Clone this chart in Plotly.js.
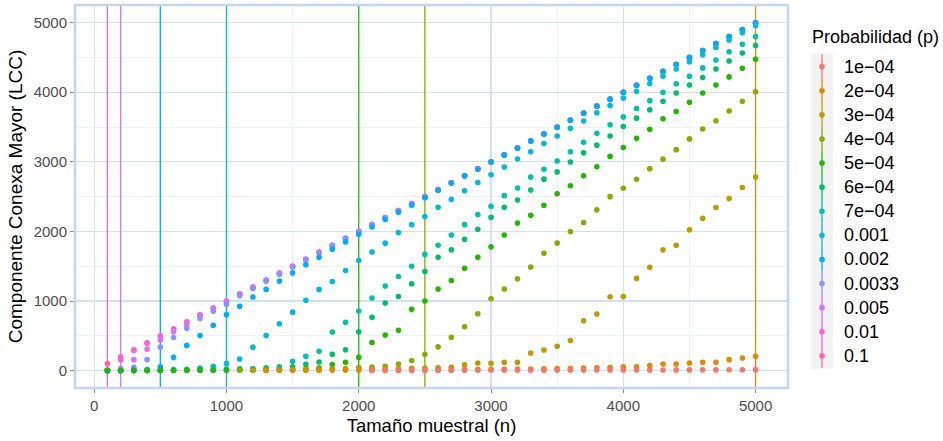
<!DOCTYPE html>
<html>
<head>
<meta charset="utf-8">
<script src="https://cdn.plot.ly/plotly-3.0.1.min.js"></script>
<style>
  html, body { margin: 0; padding: 0; background: #ffffff; }
  #chart { width: 943px; height: 441px; }
</style>
</head>
<body>
<div id="chart"></div>
<script>
// Sample sizes n shared by every series
const sampleSizes = [100, 200, 300, 400, 500, 600, 700, 800, 900, 1000,
  1100, 1200, 1300, 1400, 1500, 1600, 1700, 1800, 1900, 2000,
  2100, 2200, 2300, 2400, 2500, 2600, 2700, 2800, 2900, 3000,
  3100, 3200, 3300, 3400, 3500, 3600, 3700, 3800, 3900, 4000,
  4100, 4200, 4300, 4400, 4500, 4600, 4700, 4800, 4900, 5000];

// Edge probabilities (legend order) with their labels and colours
const probLabels = ["1e\u221204", "2e\u221204", "3e\u221204", "4e\u221204", "5e\u221204", "6e\u221204",
  "7e\u221204", "0.001", "0.002", "0.0033", "0.005", "0.01", "0.1"];
const probValues = [0.0001, 0.0002, 0.0003, 0.0004, 0.0005, 0.0006, 0.0007, 0.001, 0.002, 0.0033, 0.005, 0.01, 0.1];
const probColors = ["#F8766D", "#E18A00", "#BE9C00", "#8CAB00", "#24B700", "#00BE70",
  "#00C1AB", "#00BBDA", "#00ACFC", "#8B93FF", "#D575FE", "#F962DD", "#FF65AC"];

// Size of the largest connected component (LCC) for each n; null = not simulated
const lccP0001 = [null, null, null, null, null, null, null, null, null, null,
  null, null, null, null, null, null, null, null, null, null,
  2, 3, 3, 3, 3, 4, 4, 4, 5, 5,
  5, 5, 6, 6, 6, 7, 7, 7, 8, 8,
  8, 9, 9, 10, 10, 11, 11, 12, 13, 14];
const lccP0002 = [null, null, null, null, null, null, null, null, null, null,
  null, null, 3, 4, 4, 5, 5, 6, 7, 8,
  8, 9, 10, 11, 12, 13, 14, 15, 17, 18,
  20, 22, 24, 25, 28, 30, 35, 40, 45, 53,
  55, 72, 95, 95, 110, 119, 119, 157, 180, 205];
const lccP0003 = [null, null, null, null, null, null, null, null, null, null,
  null, 4, 5, 6, 7, 8, 10, 12, 14, 18,
  20, 25, 28, 32, 35, 40, 47, 85, 110, 105,
  119, 119, 252, 295, 350, 432, 717, 814, 1062, 1063,
  1325, 1485, 1735, 1800, 2022, 2188, 2343, 2471, 2630, 2781];
const lccP0004 = [null, null, null, null, null, null, null, null, null, null,
  5, 6, 8, 10, 12, 15, 18, 22, 30, 45,
  50, 62, 95, 145, 235, 341, 479, 631, 816, 1032,
  1172, 1319, 1489, 1686, 1833, 1997, 2127, 2310, 2499, 2621,
  2748, 2902, 3038, 3175, 3329, 3471, 3590, 3730, 3869, 4006];
const lccP0005 = [2, 2, 2, 2, 3, 3, 4, 4, 5, 6,
  7, 8, 10, 13, 18, 26, 38, 88, 121, 190,
  404, 512, 579, 880, 1001, 1172, 1294, 1471, 1627, 1778,
  1949, 2120, 2233, 2376, 2542, 2656, 2798, 2930, 3078, 3204,
  3339, 3467, 3619, 3722, 3855, 3988, 4102, 4220, 4344, 4472];
const lccP0006 = [2, 2, 2, 3, 4, 4, 5, 6, 8, 9,
  11, 14, 20, 30, 55, 90, 124, 235, 300, 558,
  766, 972, 1065, 1248, 1423, 1627, 1735, 1888, 2030, 2203,
  2347, 2452, 2594, 2751, 2855, 2997, 3129, 3239, 3371, 3507,
  3627, 3747, 3869, 3988, 4102, 4211, 4334, 4448, 4562, 4671];
const lccP0007 = [2, 2, 3, 4, 5, 6, 8, 10, 12, 18,
  25, 30, 40, 53, 135, 205, 278, 555, 693, 856,
  1044, 1214, 1352, 1499, 1670, 1802, 1949, 2097, 2243, 2360,
  2514, 2623, 2780, 2893, 3011, 3144, 3282, 3410, 3533, 3645,
  3765, 3879, 3997, 4121, 4230, 4349, 4462, 4580, 4690, 4800];
const lccP001 = [2, 3, 4, 6, 9, 14, 20, 38, 60, 100,
  166, 337, 503, 674, 840, 1010, 1167, 1280, 1437, 1582,
  1703, 1831, 1983, 2097, 2215, 2347, 2461, 2585, 2703, 2815,
  2926, 3040, 3144, 3263, 3371, 3481, 3585, 3704, 3808, 3915,
  4012, 4125, 4230, 4334, 4438, 4538, 4643, 4751, 4856, 4960];
const lccP002 = [2, 3, 6, 14, 53, 190, 362, 505, 652, 804,
  925, 1058, 1167, 1286, 1404, 1522, 1627, 1745, 1849, 1959,
  2063, 2172, 2276, 2376, 2485, 2594, 2694, 2798, 2893, 2998,
  3097, 3196, 3298, 3398, 3497, 3597, 3698, 3800, 3900, 4000,
  4100, 4200, 4298, 4398, 4499, 4600, 4700, 4800, 4900, 4998];
const lccP0033 = [3, 8, 48, 157, 337, 475, 607, 750, 853, 955,
  1075, 1180, 1285, 1385, 1488, 1592, 1692, 1795, 1897, 1992,
  2088, 2192, 2295, 2396, 2490, 2592, 2694, 2795, 2895, 2995,
  3094, 3195, 3296, 3395, 3496, 3594, 3696, 3797, 3895, 3996,
  4095, 4196, 4297, 4395, 4496, 4594, 4696, 4797, 4896, 4995];
const lccP005 = [4, 28, 157, 308, 441, 560, 654, 785, 890, 990,
  1095, 1195, 1297, 1396, 1497, 1598, 1698, 1797, 1898, 1998,
  2097, 2199, 2298, 2398, 2499, 2599, 2699, 2798, 2899, 2999,
  3099, 3198, 3299, 3399, 3499, 3599, 3699, 3799, 3899, 3999,
  4099, 4199, 4299, 4399, 4499, 4599, 4699, 4799, 4899, 4999];
const lccP01 = [12, 157, 290, 392, 490, 590, 695, 797, 899, 998,
  1099, 1200, 1299, 1400, 1500, 1599, 1700, 1800, 1900, 2000,
  2100, 2200, 2300, 2400, 2500, 2600, 2700, 2800, 2900, 3000,
  3100, 3200, 3300, 3400, 3500, 3600, 3700, 3800, 3900, 4000,
  4100, 4200, 4300, 4400, 4500, 4600, 4700, 4800, 4900, 5000];
const lccP1 = [100, 200, 300, 400, 500, 600, 700, 800, 900, 1000,
  1100, 1200, 1300, 1400, 1500, 1600, 1700, 1800, 1900, 2000,
  2100, 2200, 2300, 2400, 2500, 2600, 2700, 2800, 2900, 3000,
  3100, 3200, 3300, 3400, 3500, 3600, 3700, 3800, 3900, 4000,
  4100, 4200, 4300, 4400, 4500, 4600, 4700, 4800, 4900, 5000];

const seriesValues = [lccP0001, lccP0002, lccP0003, lccP0004, lccP0005, lccP0006,
  lccP0007, lccP001, lccP002, lccP0033, lccP005, lccP01, lccP1];

// Page geometry
const W = 943, H = 441;
const M = { l: 75, r: 155, t: 5, b: 53 };
const panelW = W - M.l - M.r, panelH = H - M.t - M.b;
const toPaperX = px => (px - M.l) / panelW;
const toPaperY = py => (H - M.b - py) / panelH;

const xRange = [-145, 5245];
const yRange = [-250, 5253];
const FONT = "Liberation Sans, Arial, Helvetica, sans-serif";

const traces = [];

// Critical size n = 1/p, drawn where it coincides with a simulated n
probValues.forEach((p, i) => {
  const nStar = 1 / p;
  const hit = sampleSizes.find(n => Math.abs(n - nStar) < 1e-6);
  if (hit !== undefined) {
    traces.push({
      type: "scatter", mode: "lines",
      x: [hit, hit], y: yRange,
      line: { color: probColors[i], width: 1.3 },
      hoverinfo: "skip", showlegend: false
    });
  }
});

// Points, largest probability drawn first
for (let i = probValues.length - 1; i >= 0; i--) {
  traces.push({
    type: "scatter", mode: "markers",
    name: probLabels[i],
    x: sampleSizes, y: seriesValues[i],
    marker: { color: probColors[i], size: 5.6, line: { width: 0 } },
    hoverinfo: "skip", showlegend: false
  });
}

// Hand-built legend: grey key strip, coloured vertical segment and dot per entry
const shapes = [];
const annotations = [];
const keyX = 822, keyTop = 54.6, keyStep = 24.1;
shapes.push({
  type: "rect", xref: "paper", yref: "paper",
  x0: toPaperX(811), x1: toPaperX(833),
  y0: toPaperY(keyTop - 1), y1: toPaperY(keyTop + keyStep * probLabels.length + 1),
  fillcolor: "#f2f2f2", line: { width: 0 }, layer: "above"
});
probLabels.forEach((lab, i) => {
  const yc = keyTop + keyStep * (i + 0.5);
  shapes.push({
    type: "line", xref: "paper", yref: "paper",
    x0: toPaperX(keyX), x1: toPaperX(keyX),
    y0: toPaperY(yc - keyStep / 2), y1: toPaperY(yc + keyStep / 2),
    line: { color: probColors[i], width: 1.3 }, layer: "above"
  });
  shapes.push({
    type: "circle", xref: "paper", yref: "paper",
    xsizemode: "pixel", ysizemode: "pixel",
    xanchor: toPaperX(keyX), yanchor: toPaperY(yc),
    x0: -2.8, x1: 2.8, y0: -2.8, y1: 2.8,
    fillcolor: probColors[i], line: { width: 0 }, layer: "above"
  });
  annotations.push({
    xref: "paper", yref: "paper",
    x: toPaperX(842), y: toPaperY(yc),
    xanchor: "left", yanchor: "middle", showarrow: false,
    text: lab, font: { family: FONT, size: 18, color: "#000000" }
  });
});
annotations.push({
  xref: "paper", yref: "paper",
  x: toPaperX(810), y: toPaperY(37),
  xanchor: "left", yanchor: "middle", showarrow: false,
  text: "Probabilidad (p)", font: { family: FONT, size: 18, color: "#000000" }
});

// Panel border
shapes.push({
  type: "rect", xref: "paper", yref: "paper",
  x0: 0, x1: 1, y0: 0, y1: 1,
  line: { color: "#c2d6ed", width: 2.6 }, fillcolor: "rgba(0,0,0,0)", layer: "above"
});

const axisCommon = {
  ticks: "outside", ticklen: 4, tickwidth: 1, tickcolor: "#8a8a8a",
  tickfont: { family: FONT, size: 15, color: "#4d4d4d" },
  showgrid: true, gridcolor: "#d3e2f3", gridwidth: 1.1,
  zeroline: false, showline: false, fixedrange: true
};

const layout = {
  width: W, height: H,
  margin: M,
  paper_bgcolor: "#ffffff", plot_bgcolor: "#ffffff",
  font: { family: FONT },
  showlegend: false,
  xaxis: Object.assign({}, axisCommon, {
    range: xRange, tick0: 0, dtick: 1000,
    minor: { tick0: 0, dtick: 500, showgrid: true, gridcolor: "#e3ecf8", gridwidth: 0.7, ticks: "" },
    title: { text: "Tamaño muestral (n)", font: { family: FONT, size: 18.5, color: "#000000" }, standoff: 6 }
  }),
  yaxis: Object.assign({}, axisCommon, {
    range: yRange, tick0: 0, dtick: 1000,
    minor: { tick0: 0, dtick: 500, showgrid: true, gridcolor: "#e3ecf8", gridwidth: 0.7, ticks: "" },
    title: { text: "Componente Conexa Mayor (LCC)", font: { family: FONT, size: 19, color: "#000000" }, standoff: 5 }
  }),
  shapes: shapes,
  annotations: annotations
};

Plotly.newPlot("chart", traces, layout, { staticPlot: true, displayModeBar: false });
</script>
</body>
</html>
